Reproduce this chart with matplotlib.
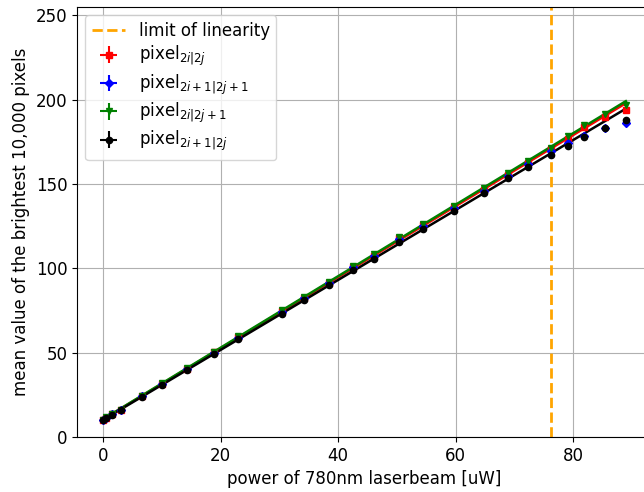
import matplotlib
matplotlib.use("Agg")
import matplotlib.pyplot as plt
import numpy as np

# laser power [uW]
power = np.array([0, 0.5, 1.5, 3.0, 6.6, 10.1, 14.3, 18.9, 23.0, 30.4, 34.2, 38.4, 42.6,
                  46.2, 50.4, 54.5, 59.8, 64.8, 68.9, 72.4, 76.3, 79.1, 81.9, 85.5, 89.0])

# mean of brightest 10,000 pixels for each sub-grid
red_vals = np.array([10.2, 11.5, 13.6, 16.1, 24.3, 31.7, 40.5, 50.3, 59.4, 74.5, 82.7, 91.6, 100.8,
                     107.6, 117.8, 125.7, 136.3, 146.7, 155.5, 162.6, 170.5, 177.0, 183.6, 189.6, 194.2])
blue_vals = np.array([10.1, 11.4, 13.5, 16.0, 24.2, 31.5, 40.3, 50.0, 59.0, 74.3, 82.5, 91.4, 100.6,
                      107.3, 117.5, 125.3, 135.8, 146.1, 154.8, 161.6, 169.4, 174.4, 178.3, 183.5, 186.0])
green_vals = np.array([10.3, 11.6, 13.7, 16.3, 24.5, 31.9, 40.8, 50.6, 59.8, 75.1, 83.2, 92.2, 101.5,
                       108.3, 118.6, 126.5, 137.2, 147.6, 156.3, 163.6, 171.5, 178.3, 184.8, 191.4, 196.7])
black_vals = np.array([10.0, 11.2, 13.3, 15.8, 23.8, 31.0, 39.8, 49.3, 58.3, 73.2, 81.2, 90.0, 98.9,
                       105.6, 115.7, 123.5, 134.2, 144.5, 153.3, 160.0, 167.3, 172.4, 177.7, 183.2, 188.0])

x_err = 0.3
y_err = 0.8
limit = 76.3

labels = [r'pixel$_{2i|2j}$', r'pixel$_{2i+1|2j+1}$', r'pixel$_{2i|2j+1}$', r'pixel$_{2i+1|2j}$']

plt.rcParams['font.size'] = 12

fig = plt.figure(figsize=(6.44, 4.92), dpi=100)
ax = fig.add_axes([77/644, 55/492, (652-77)/644, 430/492])

ax.axvline(limit, color='orange', ls='--', lw=2, label='limit of linearity', zorder=1)

series = [(red_vals, 'red', 's'), (blue_vals, 'blue', 'D'),
          (green_vals, 'green', 'v'), (black_vals, 'black', 'o')]

for (vals, col, mk), lab in zip(series, labels):
    ax.errorbar(power, vals, xerr=x_err, yerr=y_err, fmt=mk, color=col, ms=4.5, label=lab, zorder=3)

# linear fits below the limit of linearity
sel = power <= limit
xs = np.array([power.min(), power.max()])
for vals, col in [(red_vals, 'red'), (green_vals, 'green'), (black_vals, 'black')]:
    k, d = np.polyfit(power[sel], vals[sel], 1)
    ax.plot(xs, k * xs + d, color=col, lw=1.8, zorder=2)

ax.set_xlim(-4.45, 93.45)
ax.set_ylim(0, 255)
ax.set_xticks([0, 20, 40, 60, 80])
ax.grid(True, color='#b0b0b0')
ax.set_axisbelow(True)
ax.set_xlabel('power of 780nm laserbeam [uW]')
ax.set_ylabel('mean value of the brightest 10,000 pixels')
ax.legend(loc='upper left', labelspacing=0.25)

fig.savefig('out.png', dpi=100)
